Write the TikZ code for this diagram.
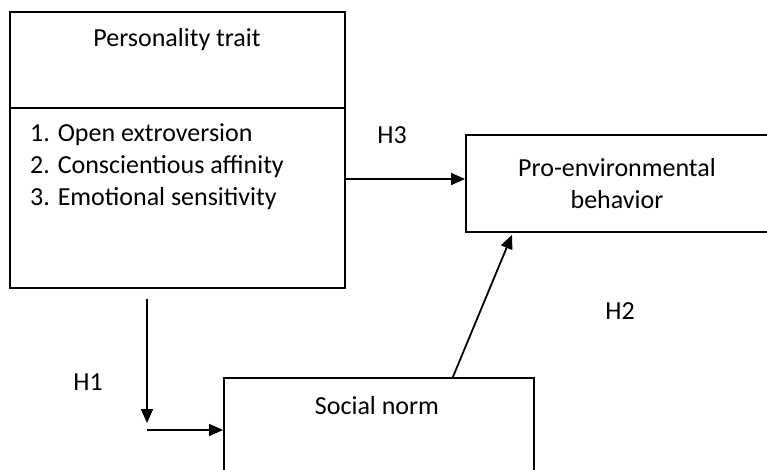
\documentclass[tikz,border=0pt]{standalone}
\usepackage{fontspec}
\setmainfont{Carlito}
\usetikzlibrary{arrows.meta,positioning}
\tikzset{
  box/.style = {rectangle, draw, line width=1.8pt, inner sep=0pt},
  arr/.style = {-{Triangle[length=14pt,width=12pt]}, line width=1.8pt},
  lbl/.style = {font=\fontsize{26}{32}\selectfont, inner sep=0pt}
}

\begin{document}
\begin{tikzpicture}[x=1pt,y=-1pt]
    \useasboundingbox (0,0) rectangle (767,470);
    \clip (0,0) rectangle (767,470);

    % boxes
    \node[box, minimum width=335pt, minimum height=96pt, anchor=north west] (trait) at (9,11) {};
    \node[box, minimum width=335pt, minimum height=180pt, below=-1.8pt of trait] (dims) {};
    \node[box, minimum width=320pt, minimum height=97pt, anchor=north west] (behav) at (465,134) {};
    \node[box, minimum width=310pt, minimum height=100pt, anchor=north west] (norm) at (223,377) {};

    % texts
    \node[lbl] (traittitle) at (177,40) {Personality trait};
    \node[lbl, align=left, anchor=west] (traitlist) at (30,167) {1. Open extroversion\\2. Conscientious affinity\\3. Emotional sensitivity};
    \node[lbl, align=center] (behavtext) at (617,184) {Pro-environmental\\behavior};
    \node[lbl] (normtext) at (377,406) {Social norm};
    \node[lbl] (h3) at (392,135) {H3};
    \node[lbl] (h1) at (88,382) {H1};
    \node[lbl] (h2) at (620,311) {H2};

    % connectors
    \coordinate (h3start) at (344,179);
    \coordinate (h1top) at (147,299);
    \coordinate (h1bot) at (147,423);
    \coordinate (h1turn) at (147,430);
    \draw[arr] (h3start) -- (h3start -| behav.west);
    \draw[arr] (h1top) -- (h1bot);
    \draw[arr] (h1turn) -- (h1turn -| norm.west);
    \draw[arr] ([xshift=74pt]norm.north) -- ([xshift=47pt, yshift=-2pt]behav.south west);
\end{tikzpicture}
\end{document}
